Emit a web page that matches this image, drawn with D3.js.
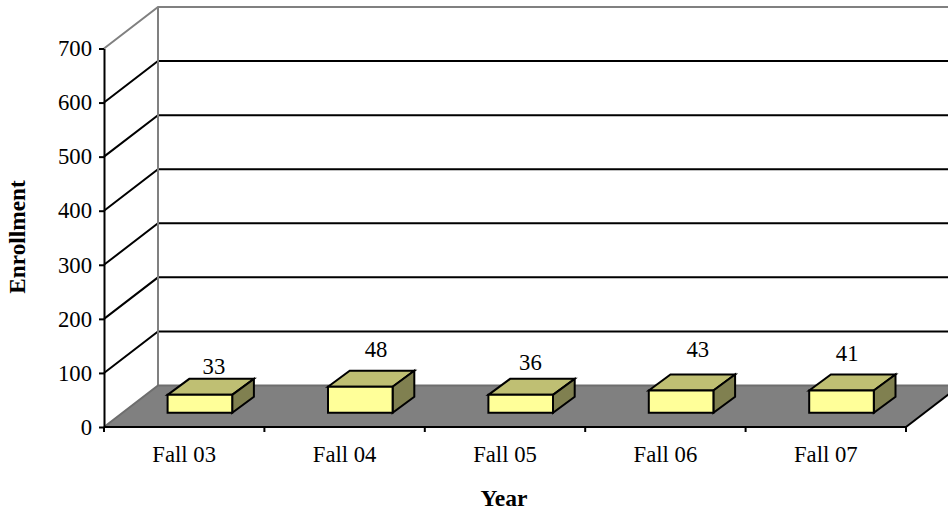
<!DOCTYPE html>
<html><head><meta charset="utf-8">
<script src="https://cdn.jsdelivr.net/npm/d3@7/dist/d3.min.js"></script>
<style>html,body{margin:0;padding:0;background:#fff}svg{display:block}text{font-family:"Liberation Serif",serif;fill:#000}</style>
</head><body><svg id="c" width="948" height="512"></svg>
<script>
const categories = ["Fall 03","Fall 04","Fall 05","Fall 06","Fall 07"];
const enrollmentLabels = [33,48,36,43,41];
// heights as drawn in the picture (the 36 and 43 bars are drawn shorter than their labels)
const barHeights = [33,48,33,41,41];
const yTicks = [0,100,200,300,400,500,600,700];
const labelLift = [5,13.3,9,17.3,13.3];
const labelShift = [-7.7,-6,-12,-5,-16];

const svg = d3.select("#c");
const X0=104, X1=906, Y0=427, Y1=48.5, DX=54, DY=41.5, FS=22.7;
const band = d3.scaleBand().domain(categories).range([X0,X1]);
const y = d3.scaleLinear().domain([0,700]).range([Y0,Y1]);
const path = p => "M"+p.map(q=>q.join(",")).join("L")+"Z";

svg.append("path").attr("d",path([[X0,Y0],[X0+DX,Y0-DY],[X1+DX,Y0-DY],[X1,Y0]])).attr("fill","#808080");
yTicks.slice(1,-1).forEach(t=>{
  svg.append("path").attr("d",`M${X0},${y(t)}L${X0+DX},${y(t)-DY}L948,${y(t)-DY}`).attr("fill","none").attr("stroke","#000").attr("stroke-width",2);
});
const gray="#808080";
svg.append("path").attr("d",`M${X0},${Y1}L${X0+DX},${Y1-DY}L948,${Y1-DY}`).attr("fill","none").attr("stroke",gray).attr("stroke-width",2);
svg.append("path").attr("d",`M${X0+DX},${Y1-DY}V${Y0-DY}`).attr("fill","none").attr("stroke",gray).attr("stroke-width",2);
svg.append("path").attr("d",`M${X0},${Y0}L${X0+DX},${Y0-DY}L948,${Y0-DY}`).attr("fill","none").attr("stroke","#6e6e6e").attr("stroke-width",2);
svg.append("path").attr("d",`M${X1},${Y0}L${X1+DX},${Y0-DY}`).attr("fill","none").attr("stroke","#000").attr("stroke-width",2);

const bw=64.6, depthX=21.7, depthY=16, floorX=15.7, floorY=14.3;
const bars = svg.selectAll("g.bar").data(categories.map((c,i)=>({c,v:barHeights[i],lab:enrollmentLabels[i],i}))).join("g").attr("class","bar");
bars.each(function(d){
  const g=d3.select(this);
  const l=band(d.c)+band.bandwidth()/2-bw/2+floorX, r=l+bw;
  const b=Y0-floorY, h=Y0-y(d.v), t=b-h;
  const add=(pts,f)=>g.append("path").attr("d",path(pts)).attr("fill",f).attr("stroke","#000").attr("stroke-width",2);
  add([[l,t],[l+depthX,t-depthY],[r+depthX,t-depthY],[r,t]],"#bfbf73");
  add([[r,t],[r+depthX,t-depthY],[r+depthX,b-depthY],[r,b]],"#808050");
  add([[l,t],[r,t],[r,b],[l,b]],"#ffff99");
  g.append("text").attr("x",r+depthX-bw/2+labelShift[d.i]).attr("y",t-depthY-labelLift[d.i])
   .attr("text-anchor","middle").attr("font-size",FS).text(d.lab);
});

const ya = svg.append("g").attr("transform",`translate(${X0},0)`)
  .call(d3.axisLeft(y).tickValues(yTicks).tickSize(5).tickPadding(7).tickSizeOuter(0));
ya.select(".domain").attr("stroke","#000").attr("stroke-width",2);
ya.selectAll(".tick line").attr("stroke","#000").attr("stroke-width",2);
ya.selectAll("text").attr("font-size",FS);

const xa = svg.append("g").attr("transform",`translate(0,${Y0})`)
  .call(d3.axisBottom(band).tickSize(0).tickPadding(19));
xa.select(".domain").attr("stroke","#000").attr("stroke-width",2).attr("d",`M${X0},0H${X1}`);
xa.selectAll("text").attr("font-size",FS);
categories.concat("end").forEach((c,i)=>{
  const px=X0+i*band.step();
  xa.append("line").attr("x1",px).attr("x2",px).attr("y1",0).attr("y2",5).attr("stroke","#000").attr("stroke-width",2);
});

svg.append("text").attr("x",504).attr("y",505.5).attr("text-anchor","middle").attr("font-weight","bold").attr("font-size",23.5).text("Year");
svg.append("text").attr("transform","translate(25,237) rotate(-90)").attr("text-anchor","middle").attr("font-weight","bold").attr("font-size",23.3).text("Enrollment");
</script></body></html>
